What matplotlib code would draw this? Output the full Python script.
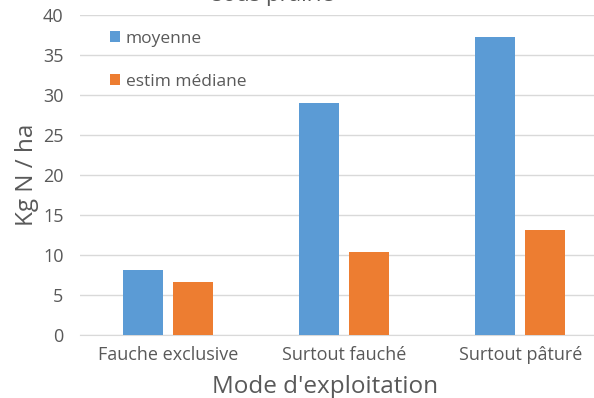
import matplotlib
matplotlib.use("Agg")
import matplotlib.pyplot as plt
import numpy as np

# data
categories = ["Fauche exclusive", "Surtout fauché", "Surtout pâturé"]
moyenne = [8.1, 29.0, 37.3]
mediane = [6.6, 10.4, 13.2]
series_labels = ["moyenne", "estim médiane"]

plt.rcParams['font.family'] = ['Open Sans', 'DejaVu Sans']
grey = "#595959"

fig = plt.figure(figsize=(5.94, 3.98), dpi=100)
ax = fig.add_axes([0.135, 0.158, 0.889, 0.804])

x = np.arange(len(categories))
w = 0.227
off = 0.142
ax.bar(x - off, moyenne, w, color="#5B9BD5", label=series_labels[0], zorder=3)
ax.bar(x + off, mediane, w, color="#ED7D31", label=series_labels[1], zorder=3)

ax.set_xlim(-0.5, 2.5)
ax.set_ylim(0, 40)
ax.set_yticks(range(0, 41, 5))
ax.set_xticks(x)
ax.set_xticklabels(categories)
ax.grid(axis="y", color="#d9d9d9", linewidth=1, zorder=0)
for s in ["top", "right", "left"]:
    ax.spines[s].set_visible(False)
ax.spines["bottom"].set_color("#d9d9d9")
ax.tick_params(length=0, colors=grey, labelsize=13)
ax.tick_params(axis="x", pad=8)
ax.tick_params(axis="y", pad=12)
ax.set_ylabel("Kg N / ha", color=grey, fontsize=17.5, labelpad=3)
ax.set_xlabel("Mode d'exploitation", color=grey, fontsize=17.5)
ax.xaxis.set_label_coords(0.464, -0.125)

ax.legend(loc="upper left", bbox_to_anchor=(0.027, 1.0), frameon=False,
          handlelength=0.55, handleheight=0.55, handletextpad=0.35,
          labelspacing=1.55, fontsize=12.5, labelcolor=grey)

# title is cut off at the top of the reference image
fig.text(0.46, 0.997, "sous prairie", ha="center", va="baseline",
         fontsize=16, color=grey)

fig.savefig("out.png", dpi=100)
